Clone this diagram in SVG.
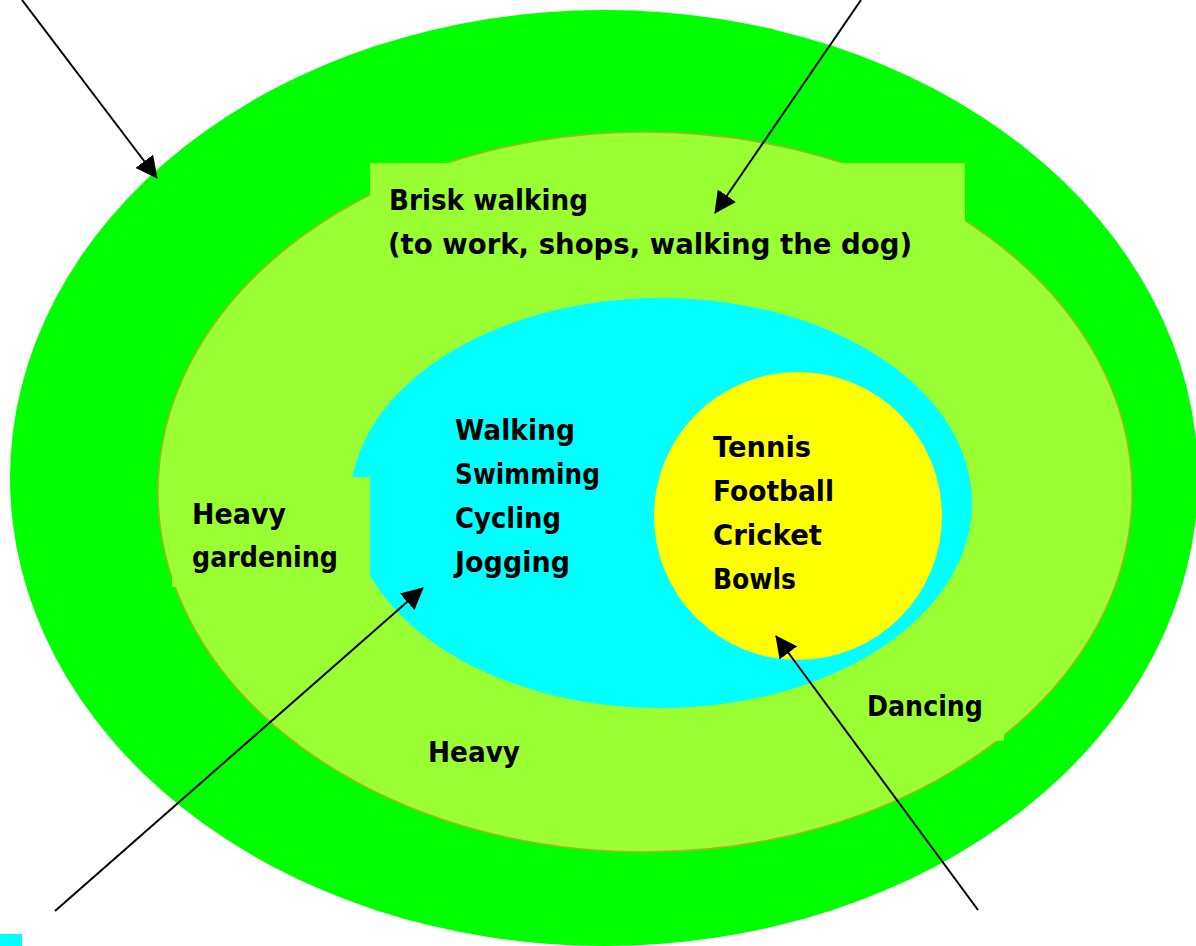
<svg xmlns="http://www.w3.org/2000/svg" width="1196" height="946" viewBox="0 0 1196 946">
<style>
.t{font-family:"Comic Sans MS","DejaVu Sans",sans-serif;font-weight:bold;font-size:29px;fill:#000}
.lg{fill:#99ff33}
.ln{stroke:#000;stroke-width:2;fill:none}
</style>
<defs>
<marker id="ah" viewBox="0 0 22 22" refX="21" refY="11" markerWidth="22" markerHeight="22" markerUnits="userSpaceOnUse" orient="auto">
<path d="M0,0 L22,11 L0,22 z" fill="#000"/>
</marker>
</defs>
<rect width="1196" height="946" fill="#fff"/>
<g id="outer">
<ellipse cx="604" cy="478" rx="594" ry="468" fill="#00ff00"/>
</g>
<g id="moderate">
<ellipse cx="645" cy="492" rx="487" ry="360" class="lg" stroke="#b0b020" stroke-width="1.5"/>
<rect x="370" y="163" width="595" height="70" class="lg"/>
</g>
<g id="aerobic">
<ellipse cx="661" cy="503" rx="311" ry="205" fill="#00ffff"/>
</g>
<g id="gardening">
<rect x="172" y="477" width="198" height="110" class="lg"/>
<text class="t" x="192" y="524" textLength="94" lengthAdjust="spacingAndGlyphs">Heavy</text>
<text class="t" x="192" y="567" textLength="146" lengthAdjust="spacingAndGlyphs">gardening</text>
</g>
<g id="dancing">
<rect x="850" y="680" width="154" height="61" class="lg"/>
<text class="t" x="867" y="716" textLength="116" lengthAdjust="spacingAndGlyphs">Dancing</text>
</g>
<g id="sports">
<circle cx="798" cy="516" r="144" fill="#ffff00"/>
<text class="t" x="713" y="457" textLength="98" lengthAdjust="spacingAndGlyphs">Tennis</text>
<text class="t" x="713" y="501" textLength="121" lengthAdjust="spacingAndGlyphs">Football</text>
<text class="t" x="713" y="545" textLength="109" lengthAdjust="spacingAndGlyphs">Cricket</text>
<text class="t" x="713" y="589" textLength="83" lengthAdjust="spacingAndGlyphs">Bowls</text>
</g>
<g id="aerobic-text">
<text class="t" x="455" y="440" textLength="120" lengthAdjust="spacingAndGlyphs">Walking</text>
<text class="t" x="455" y="484" textLength="145" lengthAdjust="spacingAndGlyphs">Swimming</text>
<text class="t" x="455" y="528" textLength="106" lengthAdjust="spacingAndGlyphs">Cycling</text>
<text class="t" x="455" y="572" textLength="115" lengthAdjust="spacingAndGlyphs">Jogging</text>
</g>
<g id="brisk">
<text class="t" x="389" y="210" textLength="199" lengthAdjust="spacingAndGlyphs">Brisk walking</text>
<text class="t" x="388" y="254" textLength="524" lengthAdjust="spacingAndGlyphs">(to work, shops, walking the dog)</text>
</g>
<g id="heavy">
<text class="t" x="428" y="762" textLength="92" lengthAdjust="spacingAndGlyphs">Heavy</text>
</g>
<rect x="0" y="934" width="22" height="12" fill="#00ffff"/>
<g id="connectors">
<line class="ln" x1="22" y1="0" x2="157" y2="178" marker-end="url(#ah)"/>
<line class="ln" x1="861" y1="0" x2="715" y2="213" marker-end="url(#ah)"/>
<line class="ln" x1="55" y1="911" x2="423" y2="588" marker-end="url(#ah)"/>
<line class="ln" x1="978" y1="910" x2="776" y2="636" marker-end="url(#ah)"/>
</g>
</svg>
